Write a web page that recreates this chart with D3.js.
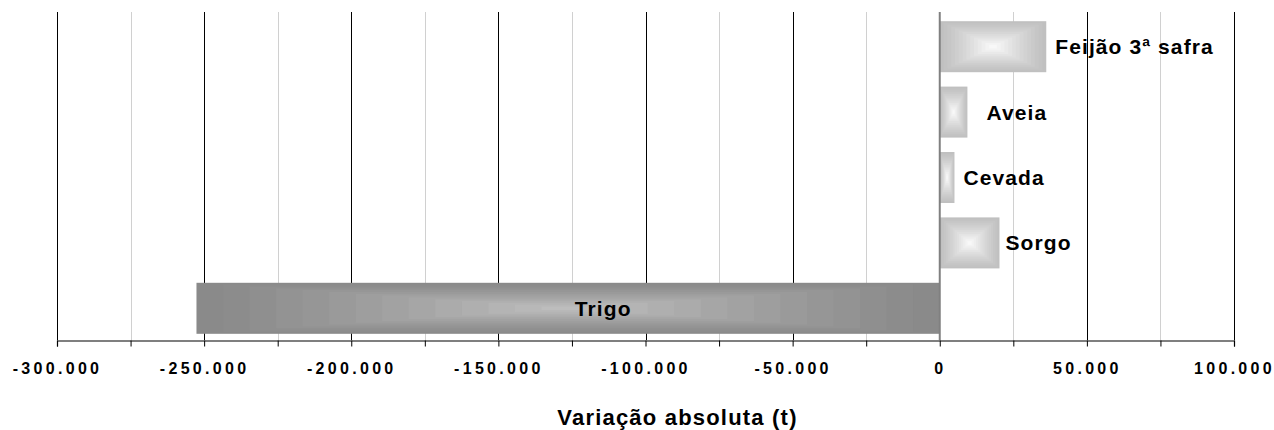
<!DOCTYPE html>
<html>
<head>
<meta charset="utf-8">
<script src="https://cdn.jsdelivr.net/npm/d3@7"></script>
<style>
  html, body { margin: 0; padding: 0; background: #fff; }
  svg { display: block; }
  text { font-family: Arial, "Liberation Sans", sans-serif; font-weight: bold; fill: #000; }
</style>
</head>
<body>
<svg id="chart" width="1274" height="430"></svg>
<script>
// ---- data ----
const categories = ["Feijão 3ª safra", "Aveia", "Cevada", "Sorgo", "Trigo"];
const values = [36200, 9400, 5000, 20300, -252600];
const tickValues = [-300000, -250000, -200000, -150000, -100000, -50000, 0, 50000, 100000];
const minorTickValues = [-275000, -225000, -175000, -125000, -75000, -25000, 25000, 75000];
const axisTitle = "Variação absoluta (t)";

// ---- style (not data) ----
const labelOffsets = [9, 19, 9, 6, -365];   // label start relative to x(value) or x(0)
const W = 1274, H = 430;
const margin = { top: 12, right: 40, bottom: 90, left: 57 };
const innerBottom = H - margin.bottom; // 340

const svg = d3.select("#chart");

const x = d3.scaleLinear()
  .domain([-300000, 100000])
  .range([margin.left, W - margin.right]);

const y = d3.scaleBand()
  .domain(categories)
  .range([14, 341])
  .paddingInner(0.22)
  .paddingOuter(0.11);

const locale = d3.formatLocale({ decimal: ",", thousands: ".", grouping: [3], currency: ["", ""], minus: "-" });
const fmt = locale.format(",d");

// minor gridlines
svg.append("g").selectAll("line").data(minorTickValues).join("line")
  .attr("x1", d => Math.round(x(d)) + 0.5).attr("x2", d => Math.round(x(d)) + 0.5)
  .attr("y1", margin.top).attr("y2", innerBottom)
  .attr("stroke", "#d0d0d0").attr("stroke-width", 1);

// major gridlines
svg.append("g").selectAll("line").data(tickValues.filter(d => d !== 0)).join("line")
  .attr("x1", d => Math.round(x(d)) + 0.5).attr("x2", d => Math.round(x(d)) + 0.5)
  .attr("y1", margin.top).attr("y2", innerBottom)
  .attr("stroke", "#000").attr("stroke-width", 1);

// bars with a stepped rectangular "from centre" gradient
const N = 14;
const bars = svg.append("g");
categories.forEach((c, i) => {
  const v = values[i];
  const x0 = x(Math.min(0, v)), x1 = x(Math.max(0, v));
  const y0 = y(c), h = y.bandwidth(), w = x1 - x0;
  const neg = v < 0;
  const edge = neg ? "#8a8a8a" : "#c0c0c0";
  const center = neg ? "#bdbdbd" : "#f8f8f8";
  const interp = d3.interpolateRgb(edge, center);
  for (let k = 0; k < N; k++) {
    const t = k / N;
    const ix = t * w / 2, iy = t * h / 2;
    bars.append("rect")
      .attr("x", x0 + ix).attr("y", y0 + iy)
      .attr("width", Math.max(0, w - 2 * ix)).attr("height", Math.max(0, h - 2 * iy))
      .attr("fill", interp(Math.pow(k / (N - 1), 1.2)));
  }
});

// zero line
svg.append("line")
  .attr("x1", x(0)).attr("x2", x(0))
  .attr("y1", margin.top).attr("y2", innerBottom)
  .attr("stroke", "#808080").attr("stroke-width", 2);

// x axis
const axis = d3.axisBottom(x)
  .tickValues(d3.merge([tickValues, minorTickValues]).sort((a, b) => a - b))
  .tickSize(6)
  .tickFormat(d => tickValues.includes(d) ? fmt(d) : "");
const gx = svg.append("g")
  .attr("transform", `translate(0,${innerBottom + 0.5})`)
  .call(axis);
gx.select(".domain").attr("stroke", "#000").attr("stroke-width", 1.2);
gx.selectAll(".tick line").attr("stroke", "#000");
gx.selectAll(".tick text")
  .attr("y", 33).attr("dy", 0)
  .style("font-size", "16px").style("letter-spacing", "3.3px")
  .style("font-family", "Arial, 'Liberation Sans', sans-serif").style("font-weight", "bold")
  .attr("fill", "#000");

// bar labels
svg.append("g").selectAll("text").data(categories).join("text")
  .attr("x", (c, i) => values[i] >= 0 ? x(values[i]) + labelOffsets[i] : x(0) + labelOffsets[i])
  .attr("y", c => y(c) + y.bandwidth() / 2)
  .attr("dy", "0.36em")
  .attr("text-anchor", "start")
  .style("font-size", "21px").style("letter-spacing", "1.1px")
  .text(c => c);

// axis title
svg.append("text")
  .attr("x", (x.range()[0] + x.range()[1]) / 2 + 32)
  .attr("y", 425)
  .attr("text-anchor", "middle")
  .style("font-size", "22px").style("letter-spacing", "1.2px")
  .text(axisTitle);
</script>
</body>
</html>
